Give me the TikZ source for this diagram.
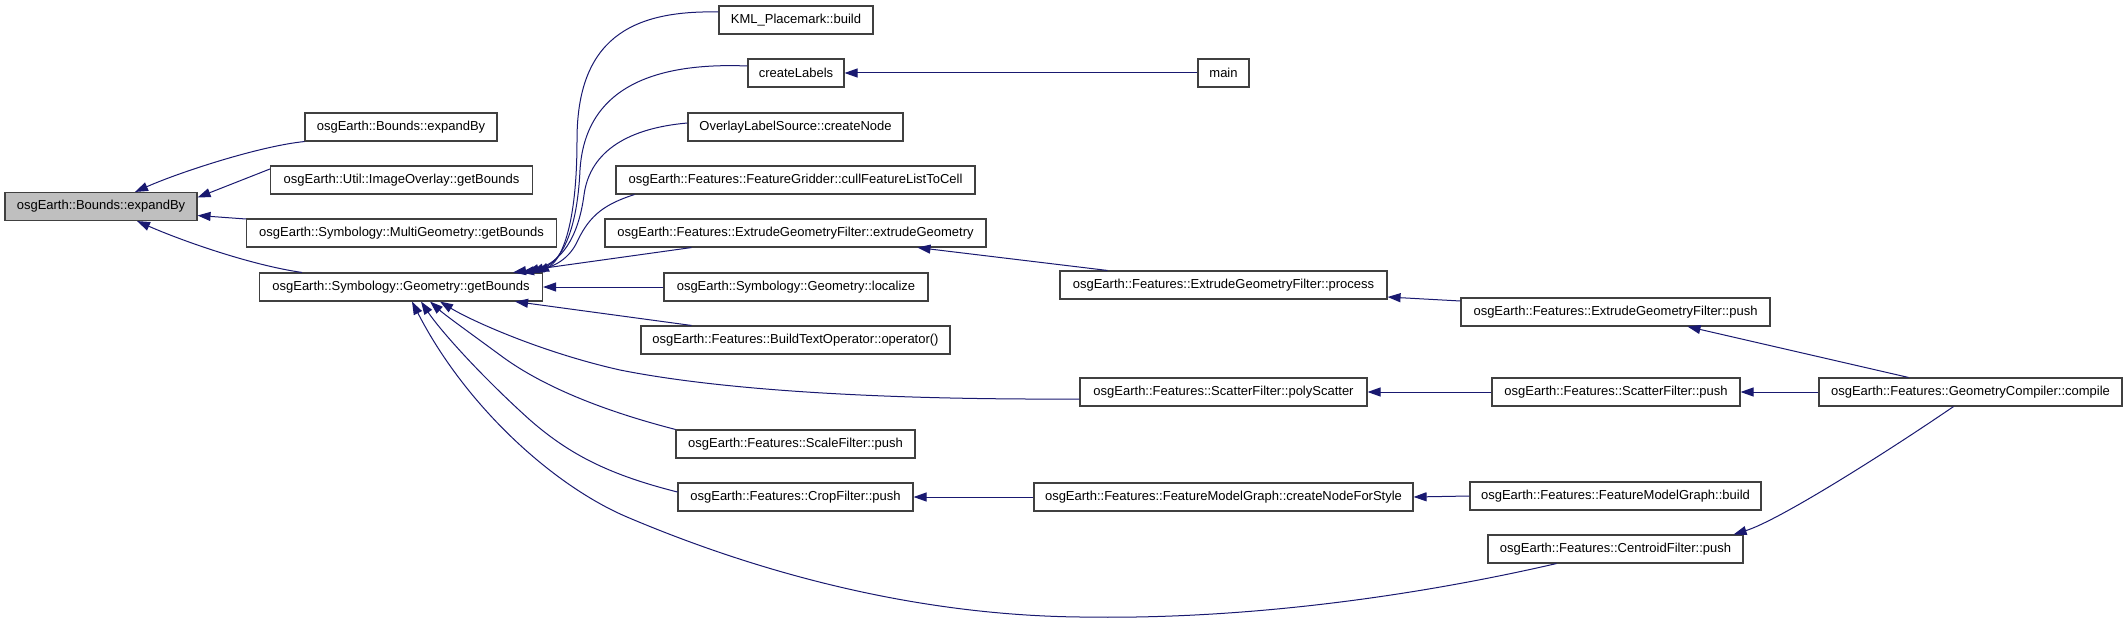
\documentclass[tikz,border=0pt]{standalone}
\usepackage{fontspec}
\setmainfont{Liberation Sans}
\usetikzlibrary{arrows.meta,calc}
\definecolor{dxedge}{RGB}{25,25,112}
\definecolor{dxroot}{RGB}{191,191,191}
\definecolor{dxline}{RGB}{64,64,64}

\begin{document}
\begin{tikzpicture}[x=1pt, y=-1pt,
    fn/.style={draw=dxline, line width=1.1pt, fill=white, minimum height=28pt, inner xsep=5pt, inner ysep=0pt, font=\fontsize{13pt}{15pt}\selectfont},
    rootfn/.style={fn, fill=dxroot},
    call/.style={draw=dxedge, line width=1pt, -{Triangle[length=13pt,width=9pt]}}
  ]
  \useasboundingbox[fill=white] (0,0) rectangle (2128,623);

  % left part
  \node[rootfn, minimum width=192pt] (root) at (101,206.5) {osgEarth::Bounds::expandBy};
  \node[fn, minimum width=192pt] (bexp) at (401,127) {osgEarth::Bounds::expandBy};
  \node[fn, minimum width=262pt] (imgov) at (401.5,180) {osgEarth::Util::ImageOverlay::getBounds};
  \node[fn, minimum width=310pt] (multigeo) at (401.5,233) {osgEarth::Symbology::MultiGeometry::getBounds};
  \node[fn, minimum width=283pt] (geo) at (401,287) {osgEarth::Symbology::Geometry::getBounds};

  % second column
  \node[fn, minimum width=154pt] (kml) at (796,20) {KML\_Placemark::build};
  \node[fn, minimum width=96pt] (clabels) at (796,73) {createLabels};
  \node[fn, minimum width=215pt] (overlay) at (795.5,127) {OverlayLabelSource::createNode};
  \node[fn, minimum width=359pt] (cull) at (795.5,180) {osgEarth::Features::FeatureGridder::cullFeatureListToCell};
  \node[fn, minimum width=381pt] (extgeom) at (795.5,233) {osgEarth::Features::ExtrudeGeometryFilter::extrudeGeometry};
  \node[fn, minimum width=264pt] (localize) at (796,287) {osgEarth::Symbology::Geometry::localize};
  \node[fn, minimum width=309pt] (buildtext) at (795.5,340) {osgEarth::Features::BuildTextOperator::operator()};
  \node[fn, minimum width=239pt] (scalef) at (795.5,444) {osgEarth::Features::ScaleFilter::push};
  \node[fn, minimum width=235pt] (cropf) at (795.5,497) {osgEarth::Features::CropFilter::push};

  % third column
  \node[fn, minimum width=51pt] (main) at (1223.5,73) {main};
  \node[fn, minimum width=327pt] (process) at (1223.5,285) {osgEarth::Features::ExtrudeGeometryFilter::process};
  \node[fn, minimum width=287pt] (polysc) at (1223.5,392) {osgEarth::Features::ScatterFilter::polyScatter};
  \node[fn, minimum width=379pt] (nodestyle) at (1223.5,497) {osgEarth::Features::FeatureModelGraph::createNodeForStyle};

  % fourth column
  \node[fn, minimum width=309pt] (egfpush) at (1615.5,312) {osgEarth::Features::ExtrudeGeometryFilter::push};
  \node[fn, minimum width=248pt] (scpush) at (1616,392) {osgEarth::Features::ScatterFilter::push};
  \node[fn, minimum width=291pt] (fmgbuild) at (1615.5,496) {osgEarth::Features::FeatureModelGraph::build};
  \node[fn, minimum width=255pt] (centroid) at (1615.5,549) {osgEarth::Features::CentroidFilter::push};

  \node[fn, minimum width=303pt] (compile) at (1970.5,392) {osgEarth::Features::GeometryCompiler::compile};

  % callers of the root
  \draw[call] (bexp.south west) .. controls (260,146) and (180,172) .. ([xshift=34pt]root.north);
  \draw[call] ([yshift=11pt]imgov.west) -- ([yshift=9pt]root.east);
  \draw[call] ([yshift=14pt]multigeo.west) -- ([yshift=-9pt]root.east);
  \draw[call] ([xshift=43pt]geo.north west) .. controls (250,265) and (180,240) .. ([xshift=36pt]root.south);

  % callers of Geometry::getBounds
  \draw[call] ([yshift=8pt]kml.west) .. controls (630,10) and (577,40) .. (577,140)
    .. controls (577,230) and (560,262) .. ([xshift=-7pt]geo.north east);
  \draw[call] ([yshift=7pt]clabels.west) .. controls (650,62) and (585,90) .. (580,170)
    .. controls (577,235) and (560,262) .. ([xshift=-12pt]geo.north east);
  \draw[call] ([yshift=4pt]overlay.west) .. controls (630,128) and (590,150) .. (584,195)
    .. controls (578,240) and (560,262) .. ([xshift=-17pt]geo.north east);
  \draw[call] ([xshift=19pt]cull.south west) .. controls (605,204) and (590,215) .. (578,240)
    .. controls (570,258) and (555,268) .. ([xshift=-22pt]geo.north east);
  \draw[call] ([xshift=87pt]extgeom.south west) -- ([xshift=-30pt]geo.north east);
  \draw[call] (localize.west) -- (geo.east);
  \draw[call] ([xshift=51pt]buildtext.north west) -- ([xshift=-28pt]geo.south east);
  \draw[call] ([yshift=-7pt]polysc.west) .. controls (880,400) and (720,390) .. (620,370)
    .. controls (540,352) and (470,320) .. ([xshift=39pt]geo.south);
  \draw[call] (scalef.north west) .. controls (600,410) and (540,385) .. (500,355)
    .. controls (470,333) and (445,315) .. ([xshift=29pt]geo.south);
  \draw[call] ([yshift=5pt]cropf.west) .. controls (610,475) and (570,455) .. (530,420)
    .. controls (480,375) and (440,330) .. ([xshift=20pt]geo.south);
  \draw[call] ([xshift=69pt]centroid.south west) .. controls (1420,595) and (1250,620) .. (1080,617)
    .. controls (900,615) and (740,565) .. (627,517)
    .. controls (552,485) and (465,405) .. ([xshift=11pt]geo.south);

  % further callers
  \draw[call] (main.west) -- (clabels.east);
  \draw[call] ([xshift=48pt]process.north west) -- ([xshift=122pt]extgeom.south);
  \draw[call] ([yshift=11pt]egfpush.west) -- ([yshift=-12pt]process.east);
  \draw[call] (scpush.west) -- (polysc.east);
  \draw[call] (nodestyle.west) -- (cropf.east);
  \draw[call] (fmgbuild.west) -- (nodestyle.east);
  \draw[call] ([xshift=-62pt]compile.north) -- ([xshift=72pt]egfpush.south);
  \draw[call] (compile.west) -- (scpush.east);
  \draw[call] ([xshift=-17pt]compile.south) .. controls (1890,450) and (1780,520) .. ([xshift=-10pt]centroid.north east);
\end{tikzpicture}
\end{document}
